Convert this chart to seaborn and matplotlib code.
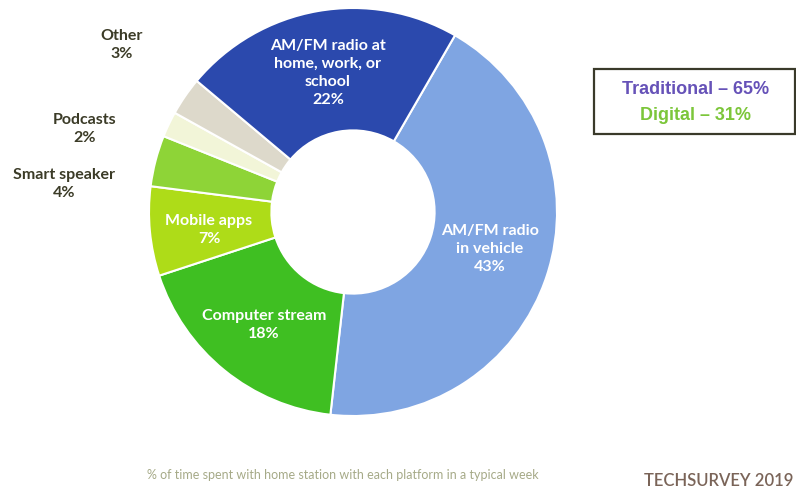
import matplotlib
matplotlib.use("Agg")
import matplotlib.pyplot as plt
import seaborn as sns

categories = ["AM/FM radio\nin vehicle", "Computer stream", "Mobile apps", "Smart speaker",
              "Podcasts", "Other", "AM/FM radio at\nhome, work, or\nschool"]
values = [43, 18, 7, 4, 2, 3, 22]
colors = ["#7FA5E2", "#3FBF22", "#AEDC18", "#8ED437", "#F2F5D8", "#DDD9CB", "#2B49AD"]
summary_labels = ["Traditional \u2013 65%", "Digital \u2013 31%"]
summary_colors = ["#6652B8", "#7CC63A"]

sns.set_theme(style="white")
plt.rcParams['font.family'] = ['Lato', 'DejaVu Sans']

W, H = 796, 490
fig = plt.figure(figsize=(W / 100, H / 100), dpi=100)
fig.patch.set_facecolor("white")

cx, cy, R = 353, 212, 204
ax = fig.add_axes([(cx - R) / W, (H - cy - R) / H, 2 * R / W, 2 * R / H])
wedges, _ = ax.pie(values, colors=colors, startangle=60, counterclock=False,
                   radius=1.0, wedgeprops=dict(width=0.6, edgecolor="white", linewidth=1.5))
ax.set_xlim(-1, 1)
ax.set_ylim(-1, 1)
ax.set_aspect("auto")
ax.axis("off")


def ftxt(x, y, s, **kw):
    fig.text(x / W, 1 - y / H, s, **kw)


inside = dict(color="white", fontsize=11.5, fontweight="bold", ha="center", va="center",
              linespacing=1.35)
ftxt(490, 249, categories[0] + "\n" + f"{values[0]}%", **inside)
ftxt(264, 325, categories[1] + "\n" + f"{values[1]}%", **inside)
ftxt(209, 230, categories[2] + "\n" + f"{values[2]}%", **inside)
ftxt(328, 73, categories[6] + "\n" + f"{values[6]}%", **inside)

outside = dict(color="#3B3B27", fontsize=11.5, fontweight="bold", ha="center", va="center",
               linespacing=1.35)
ftxt(64, 184, categories[3] + "\n" + f"{values[3]}%", **outside)
ftxt(85, 129, categories[4] + "\n" + f"{values[4]}%", **outside)
ftxt(122, 45, categories[5] + "\n" + f"{values[5]}%", **outside)

# summary box
box = plt.Rectangle((594 / W, 1 - 134 / H), (795 - 594) / W, (134 - 69) / H,
                    transform=fig.transFigure, facecolor="white", edgecolor="#3A3A2A",
                    linewidth=1.6)
fig.patches.append(box)
ftxt(696, 89, summary_labels[0], color=summary_colors[0], fontsize=13, fontweight="bold",
     ha="center", va="center", family=['Liberation Sans', 'DejaVu Sans'])
ftxt(696, 115, summary_labels[1], color=summary_colors[1], fontsize=13, fontweight="bold",
     ha="center", va="center", family=['Liberation Sans', 'DejaVu Sans'])

ftxt(343, 475, "% of time spent with home station with each platform in a typical week",
     color="#A6AA88", fontsize=9, ha="center", va="center")
ftxt(794, 481, "TECHSURVEY 2019", color="#7A6458", fontsize=12, fontweight="semibold",
     ha="right", va="center")

fig.savefig("out.png", dpi=100, facecolor="white")
